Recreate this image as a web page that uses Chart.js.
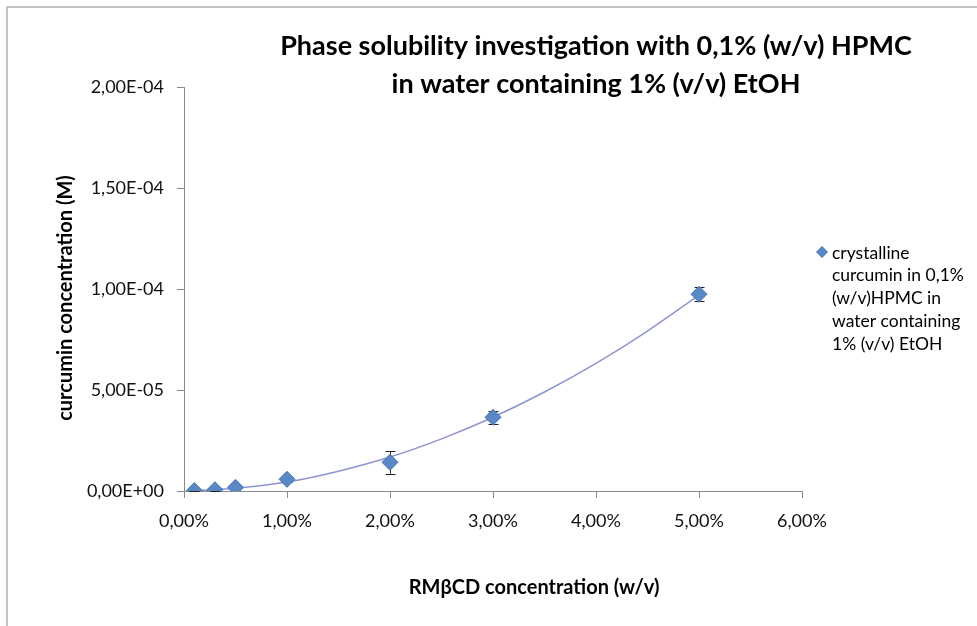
<!DOCTYPE html>
<html>
<head>
<meta charset="utf-8">
<script src="https://cdn.jsdelivr.net/npm/chart.js@4.4.1/dist/chart.umd.min.js"></script>
<style>
  html, body { margin: 0; padding: 0; background: #ffffff; }
  #wrap { width: 977px; height: 626px; position: relative; }
</style>
</head>
<body>
<div id="wrap"><canvas id="c" width="977" height="626"></canvas></div>
<script>
// ---- data ----
const chartTitle = ['Phase solubility investigation with 0,1% (w/v) HPMC', 'in water containing 1% (v/v) EtOH'];
const xAxisTitle = 'RMβCD concentration (w/v)';
const yAxisTitle = 'curcumin concentration (M)';
const legendLines = ['crystalline', 'curcumin in 0,1%', '(w/v)HPMC in', 'water containing', '1% (v/v) EtOH'];

const rmbcdConc = [0.1, 0.3, 0.5, 1, 2, 3, 5];                 // % (w/v)
const curcuminConc = [2e-7, 6e-7, 1.8e-6, 5.8e-6, 1.42e-5, 3.65e-5, 9.74e-5]; // M
const curcuminErr = [0.4e-6, 0.4e-6, 0.6e-6, 1.5e-6, 5.6e-6, 3.3e-6, 3.5e-6];

const trendConc = [0.1, 0.5, 1, 1.5, 2, 2.5, 3, 3.5, 4, 4.5, 5];
const trendValues = [0.2e-6, 1.4e-6, 4.4e-6, 9.8e-6, 1.68e-5, 2.58e-5, 3.65e-5, 4.9e-5, 6.32e-5, 7.92e-5, 9.7e-5];

const xTickLabels = ['0,00%', '1,00%', '2,00%', '3,00%', '4,00%', '5,00%', '6,00%'];
const yTickLabels = ['0,00E+00', '5,00E-05', '1,00E-04', '1,50E-04', '2,00E-04'];

// ---- styling ----
const FONT = 'Lato, "Open Sans", "Liberation Sans", sans-serif';
const AXIS_COLOR = '#8a8a8a';
const MARK_FILL = '#5a88c6';
const MARK_BORDER = '#4774b3';

const points = rmbcdConc.map((x, i) => ({ x: x, y: curcuminConc[i] }));
const trend = trendConc.map((x, i) => ({ x: x, y: trendValues[i] }));

const framePlugin = {
  id: 'frame',
  beforeDraw(chart) {
    const ctx = chart.ctx;
    ctx.save();
    ctx.fillStyle = '#ffffff';
    ctx.fillRect(0, 0, chart.width, chart.height);
    ctx.strokeStyle = '#c4c4c4';
    ctx.lineWidth = 2;
    ctx.beginPath();
    ctx.moveTo(7, chart.height + 5);
    ctx.lineTo(7, 7);
    ctx.lineTo(chart.width + 5, 7);
    ctx.stroke();
    ctx.restore();
  }
};

const errorBarPlugin = {
  id: 'errorBars',
  beforeDatasetsDraw(chart) {
    const ctx = chart.ctx;
    const xs = chart.scales.x, ys = chart.scales.y;
    ctx.save();
    ctx.strokeStyle = '#222222';
    ctx.lineWidth = 1;
    rmbcdConc.forEach((x, i) => {
      const px = Math.round(xs.getPixelForValue(x)) + 0.5;
      const top = ys.getPixelForValue(curcuminConc[i] + curcuminErr[i]);
      const bot = ys.getPixelForValue(Math.max(0, curcuminConc[i] - curcuminErr[i]));
      ctx.beginPath();
      ctx.moveTo(px, top); ctx.lineTo(px, bot);
      ctx.moveTo(px - 5, Math.round(top) + 0.5); ctx.lineTo(px + 5, Math.round(top) + 0.5);
      ctx.moveTo(px - 5, Math.round(bot) + 0.5); ctx.lineTo(px + 5, Math.round(bot) + 0.5);
      ctx.stroke();
    });
    ctx.restore();
  }
};

const textPlugin = {
  id: 'texts',
  afterDraw(chart) {
    const ctx = chart.ctx;
    ctx.save();
    ctx.fillStyle = '#000000';
    // main title
    ctx.font = 'bold 27px ' + FONT;
    ctx.textAlign = 'center';
    ctx.textBaseline = 'middle';
    ctx.fillText(chartTitle[0], 596, 46);
    ctx.fillText(chartTitle[1], 596, 84);
    // x axis title
    ctx.font = 'bold 20px ' + FONT;
    ctx.fillText(xAxisTitle, 534, 588);
    // y axis title
    ctx.save();
    ctx.translate(66, 298);
    ctx.rotate(-Math.PI / 2);
    ctx.fillText(yAxisTitle, 0, 0);
    ctx.restore();
    // legend
    ctx.font = '17.5px ' + FONT;
    ctx.textAlign = 'left';
    legendLines.forEach((t, i) => ctx.fillText(t, 832, 253 + i * 22.8));
    ctx.fillStyle = MARK_FILL;
    ctx.strokeStyle = MARK_BORDER;
    ctx.lineWidth = 1;
    ctx.beginPath();
    const cx = 822, cy = 252, r = 5.5;
    ctx.moveTo(cx, cy - r); ctx.lineTo(cx + r, cy); ctx.lineTo(cx, cy + r); ctx.lineTo(cx - r, cy); ctx.closePath();
    ctx.fill(); ctx.stroke();
    ctx.restore();
  }
};

new Chart(document.getElementById('c'), {
  type: 'scatter',
  data: {
    datasets: [
      {
        label: legendLines.join(' '),
        data: points,
        order: 0,
        pointStyle: 'rectRot',
        pointRadius: 8,
        pointHoverRadius: 8,
        backgroundColor: MARK_FILL,
        borderColor: MARK_BORDER,
        borderWidth: 1,
        showLine: false
      },
      {
        label: 'trend',
        data: trend,
        order: 1,
        showLine: true,
        pointRadius: 0,
        borderColor: '#8f93d2',
        borderWidth: 1.5,
        cubicInterpolationMode: 'monotone',
        fill: false
      }
    ]
  },
  options: {
    responsive: false,
    animation: false,
    layout: { padding: { left: 0, top: 87, right: 175, bottom: 0 } },
    plugins: {
      legend: { display: false },
      title: { display: false },
      tooltip: { enabled: false }
    },
    scales: {
      x: {
        type: 'linear',
        min: 0, max: 6,
        afterFit: s => { s.height = 135; },
        border: { color: AXIS_COLOR, width: 1 },
        grid: { drawOnChartArea: false, drawTicks: true, tickLength: 7, color: AXIS_COLOR },
        ticks: {
          stepSize: 1,
          padding: 12,
          color: '#111111',
          font: { family: FONT, size: 18 },
          callback: (v, i) => xTickLabels[i]
        }
      },
      y: {
        type: 'linear',
        min: 0, max: 2e-4,
        afterFit: s => { s.width = 184; },
        border: { color: AXIS_COLOR, width: 1 },
        grid: { drawOnChartArea: false, drawTicks: true, tickLength: 7, color: AXIS_COLOR },
        ticks: {
          stepSize: 5e-5,
          padding: 13,
          color: '#111111',
          font: { family: FONT, size: 18 },
          callback: (v, i) => yTickLabels[i]
        }
      }
    }
  },
  plugins: [framePlugin, errorBarPlugin, textPlugin]
});
</script>
</body>
</html>
